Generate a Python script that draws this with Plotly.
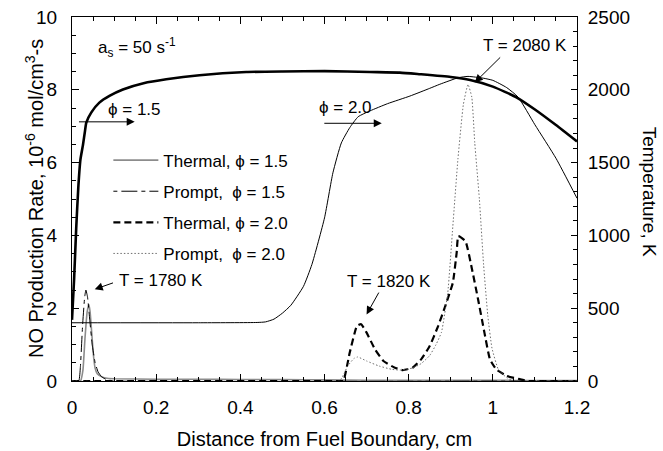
import plotly.graph_objects as go

# ---------------- data ----------------
# Temperature, phi = 1.5 (thick solid, right axis, K)
t15_x = [0, 0.005, 0.01, 0.015, 0.02, 0.026, 0.031, 0.034, 0.046, 0.065, 0.089, 0.121, 0.17,
         0.224, 0.303, 0.414, 0.5, 0.6, 0.708, 0.779, 0.827, 0.9, 0.946, 1.0, 1.057, 1.1, 1.15, 1.2]
t15_T = [420, 700, 1050, 1330, 1520, 1620, 1720, 1775, 1845, 1912, 1958, 2002, 2045,
         2072, 2100, 2122, 2126, 2128, 2122, 2118, 2107, 2088, 2067, 2022, 1947, 1865, 1758, 1645]

# Temperature, phi = 2.0 (thin solid, right axis, K)
t20_x = [0, 0.3, 0.44, 0.46, 0.48, 0.5, 0.52, 0.55, 0.57, 0.6, 0.62, 0.64, 0.66, 0.68, 0.708, 0.75,
         0.803, 0.85, 0.874, 0.918, 0.941, 0.977, 1.0, 1.033, 1.06, 1.1, 1.15, 1.2]
t20_T = [400, 400, 402, 406, 425, 466, 520, 650, 800, 1120, 1430, 1635, 1740, 1815, 1855, 1905,
         1957, 2010, 2038, 2083, 2092, 2080, 2065, 2015, 1950, 1760, 1530, 1255]

# NO production rate, 1e-6 mol/cm3-s (left axis)
th15_x = [0, 0.02, 0.026, 0.031, 0.036, 0.04, 0.043, 0.047, 0.051, 0.055, 0.06, 0.07, 0.08,
          0.1, 0.2, 0.3, 0.4, 0.5, 0.6, 0.7, 0.8, 0.9, 1.0, 1.1, 1.2]
th15_v = [0, 0, 0.3, 1.2, 1.9, 2.1, 1.9, 1.3, 0.7, 0.35, 0.2, 0.12, 0.08,
          0.06, 0.05, 0.05, 0.04, 0.04, 0.03, 0.02, 0.02, 0.02, 0.02, 0.01, 0.01]

pr15_x = [0, 0.016, 0.02, 0.025, 0.03, 0.033, 0.037, 0.042, 0.048, 0.055, 0.062, 0.07,
          0.08, 0.09, 0.1, 1.2]
pr15_v = [0, 0, 0.4, 1.5, 2.3, 2.5, 2.3, 1.7, 1.0, 0.5, 0.25, 0.12, 0.05, 0.02, 0, 0]

th20_x = [0, 0.64, 0.645, 0.66, 0.677, 0.687, 0.70, 0.72, 0.74, 0.766, 0.786, 0.81, 0.83,
          0.85, 0.87, 0.887, 0.905, 0.914, 0.918, 0.935, 0.95, 0.965, 0.98, 0.993, 1.008,
          1.033, 1.064, 1.085, 1.2]
th20_v = [0, 0, 0, 0.78, 1.51, 1.56, 1.33, 0.87, 0.55, 0.37, 0.30, 0.37, 0.6,
          0.96, 1.51, 2.06, 2.7, 3.52, 3.98, 3.84, 3.1, 2.24, 1.33, 0.6, 0.32,
          0.14, 0.05, 0, 0]

pr20_x = [0, 0.635, 0.655, 0.67, 0.679, 0.70, 0.73, 0.76, 0.78, 0.81, 0.83, 0.85, 0.865,
          0.878, 0.893, 0.905, 0.917, 0.93, 0.941, 0.95, 0.957, 0.968, 0.978, 0.988, 0.998,
          1.013, 1.033, 1.05, 1.2]
pr20_v = [0, 0, 0.41, 0.62, 0.66, 0.55, 0.41, 0.32, 0.30, 0.36, 0.48, 0.7, 1.0,
          1.34, 2.43, 4.26, 6.09, 7.6, 8.15, 7.8, 6.55, 5.0, 3.2, 1.8, 0.9,
          0.32, 0.09, 0, 0]

legend_names = ["Thermal, \u03d5 = 1.5", "Prompt,\u00a0 \u03d5 = 1.5",
                "Thermal, \u03d5 = 2.0", "Prompt,\u00a0 \u03d5 = 2.0"]

FONT = "Liberation Sans, Arial, Helvetica, sans-serif"

fig = go.Figure()

# temperature curves (right axis)
fig.add_trace(go.Scatter(x=t15_x, y=t15_T, yaxis="y2", mode="lines", showlegend=False,
                         line=dict(color="black", width=2.6, shape="spline", smoothing=0.5)))
fig.add_trace(go.Scatter(x=t20_x, y=t20_T, yaxis="y2", mode="lines", showlegend=False,
                         line=dict(color="black", width=1, shape="spline", smoothing=0.5)))

# NO production curves (left axis)
fig.add_trace(go.Scatter(x=th15_x, y=th15_v, mode="lines", name=legend_names[0], legendgroup="a",
                         line=dict(color="#8c8c8c", width=1.6, shape="spline", smoothing=0.4)))
fig.add_trace(go.Scatter(x=pr15_x, y=pr15_v, mode="lines", name=legend_names[1], legendgroup="b",
                         line=dict(color="black", width=1, dash="4px,4px,16px,4px",
                                   shape="spline", smoothing=0.4)))
fig.add_trace(go.Scatter(x=th20_x, y=th20_v, mode="lines", name=legend_names[2], legendgroup="c",
                         line=dict(color="black", width=2.2, dash="7px,4px",
                                   shape="spline", smoothing=0.4)))
fig.add_trace(go.Scatter(x=pr20_x, y=pr20_v, mode="lines", name=legend_names[3], legendgroup="d",
                         line=dict(color="#6e6e6e", width=1, dash="1.5px,2px",
                                   shape="spline", smoothing=0.4)))

axis_common = dict(showline=True, linecolor="black", linewidth=1, ticks="inside",
                   tickcolor="black", tickwidth=1, showgrid=False, zeroline=False,
                   tickfont=dict(family=FONT, size=19, color="black"))

fig.update_layout(
    width=663, height=451,
    margin=dict(l=72, r=86, t=17, b=70, autoexpand=False),
    paper_bgcolor="white", plot_bgcolor="white",
    font=dict(family=FONT, size=18, color="black"),
    xaxis=dict(range=[0, 1.2], dtick=0.2, ticklen=7, mirror="ticks",
               ticklabelstandoff=9,
               minor=dict(dtick=0.05, ticks="inside", ticklen=4, tickcolor="black"),
               title=dict(text="Distance from Fuel Boundary, cm", standoff=15,
                          font=dict(family=FONT, size=20)),
               **axis_common),
    yaxis=dict(range=[0, 10], dtick=2, ticklen=7, ticklabelstandoff=10,
               minor=dict(dtick=0.5, ticks="inside", ticklen=4, tickcolor="black"),
               **axis_common),
    yaxis2=dict(range=[0, 2500], dtick=500, ticklen=6, overlaying="y", side="right",
                ticklabelstandoff=6,
                minor=dict(dtick=100, ticks="inside", ticklen=4, tickcolor="black"),
                **axis_common),
    legend=dict(x=0.072, y=0.655, xanchor="left", yanchor="top", bgcolor="rgba(0,0,0,0)",
                font=dict(family=FONT, size=17), tracegroupgap=6, itemwidth=45),
)

# texts
texts = [
    (0.056, 9.17, "a<sub>s</sub> = 50 s<sup>-1</sup>"),
    (0.081, 7.46, "\u03d5 = 1.5"),
    (0.582, 7.52, "\u03d5 = 2.0"),
    (0.973, 9.23, "T = 2080 K"),
    (0.108, 2.75, "T = 1780 K"),
    (0.648, 2.72, "T = 1820 K"),
]
for x, y, t in texts:
    fig.add_annotation(x=x, y=y, text=t, showarrow=False, xanchor="left", yanchor="middle",
                       font=dict(family=FONT, size=17, color="black"))

# arrows: (head_x, head_y, tail_x, tail_y)
arrows = [
    (0.149, 7.12, 0.013, 7.12),
    (0.736, 7.08, 0.596, 7.08),
    (0.957, 8.2, 1.021, 8.93),
    (0.054, 2.52, 0.101, 2.71),
    (0.70, 1.83, 0.731, 2.47),
]
for hx, hy, tx, ty in arrows:
    fig.add_annotation(x=hx, y=hy, ax=tx, ay=ty, xref="x", yref="y", axref="x", ayref="y",
                       text="", showarrow=True, arrowhead=2, arrowsize=1.6, arrowwidth=1,
                       arrowcolor="black")

# axis titles as rotated texts
fig.add_annotation(x=0.0, y=0.5, xref="paper", yref="paper", xshift=-38, xanchor="center",
                   yanchor="middle",
                   text="NO Production Rate, 10<sup>-6</sup> mol/cm<sup>3</sup>-s",
                   showarrow=False, textangle=-90, font=dict(family=FONT, size=20, color="black"))
fig.add_annotation(x=1.0, y=0.52, xref="paper", yref="paper", xshift=72, xanchor="center",
                   yanchor="middle", text="Temperature, K", borderpad=0,
                   showarrow=False, textangle=90, font=dict(family=FONT, size=19, color="black"))

fig.write_html("out.html")
